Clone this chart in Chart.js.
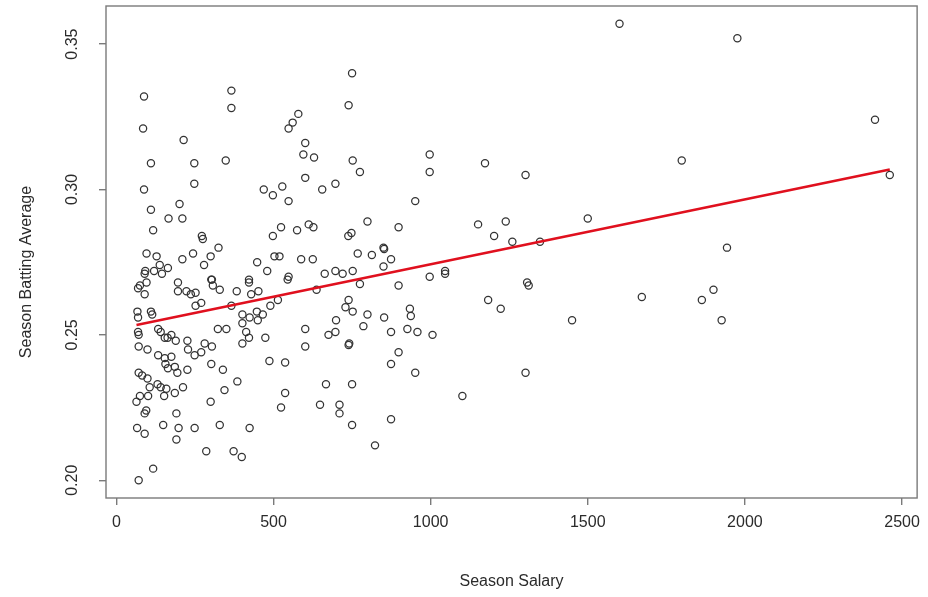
<!DOCTYPE html>
<html>
<head>
<meta charset="utf-8">
<script src="https://cdn.jsdelivr.net/npm/chart.js@4"></script>
<style>
  html, body { margin: 0; padding: 0; background: #fff; }
  canvas { display: block; }
</style>
</head>
<body>
<canvas id="chart" width="928" height="597"></canvas>
<script>
// Season salary (thousands) and season batting average, one entry per player
const salary = [
  88, 85, 214, 110, 248, 88, 248, 110, 201, 166, 210, 117, 272, 275,
  325, 96, 128, 210, 244, 300, 279, 138, 90, 92, 120, 145, 164, 302,
  75, 96, 90, 69, 196, 196, 223, 252, 237, 304, 307, 329,
  270, 252, 67, 110, 69, 114, 366, 323, 350, 69, 71, 133, 141, 154, 175, 163,
  71, 99, 189, 226, 228, 249, 270, 281, 304, 133, 154, 175, 156, 164, 186, 194, 226, 302,
  71, 82, 99, 106, 131, 141, 159, 186, 212, 339, 75, 64, 101, 152, 344, 90, 95, 191, 300,
  66, 90, 149, 198, 191, 249, 286, 117, 71, 329,
  366, 366, 579, 561, 548, 601, 348, 595, 629, 601, 655, 697, 469, 498, 528, 548,
  498, 524, 575, 612, 627, 448, 480, 503, 519, 588, 625, 422, 548, 663, 697,
  422, 545, 383, 429, 452, 637, 514, 401, 424, 447, 466, 490, 450, 699, 401, 413, 422,
  401, 474, 601, 675, 697, 601, 487, 537, 385, 537, 667, 524, 648, 424, 373, 399,
  750, 739, 752, 775, 997, 997, 951, 799, 898, 738, 748,
  768, 813, 850, 852, 874, 850, 752, 720, 997, 1046, 1046,
  775, 898, 739, 729, 752, 799, 852, 934, 937, 786, 874, 926, 958,
  1006, 739, 741, 898, 874, 951, 750, 710, 710, 750, 874, 823,
  1173, 1302, 1151, 1239, 1202, 1260, 1348, 1500, 1307, 1312, 1183, 1223, 1450, 1302, 1101,
  1601, 1976, 2414, 1799, 2461, 1943, 1672, 1900, 1863, 1926
];
const battingAvg = [
  0.332, 0.321, 0.317, 0.309, 0.309, 0.300, 0.302, 0.293, 0.295, 0.290, 0.290, 0.286, 0.284, 0.283,
  0.280, 0.278, 0.277, 0.276, 0.278, 0.277, 0.274, 0.274, 0.271, 0.272, 0.272, 0.271, 0.273, 0.269,
  0.267, 0.268, 0.264, 0.266, 0.268, 0.265, 0.265, 0.2645, 0.264, 0.269, 0.267, 0.2655,
  0.261, 0.260, 0.258, 0.258, 0.256, 0.257, 0.260, 0.252, 0.252, 0.251, 0.250, 0.252, 0.251, 0.249, 0.250, 0.249,
  0.246, 0.245, 0.248, 0.248, 0.245, 0.243, 0.244, 0.247, 0.246, 0.243, 0.242, 0.2425, 0.240, 0.2385, 0.239, 0.237, 0.238, 0.240,
  0.237, 0.236, 0.235, 0.232, 0.233, 0.232, 0.2315, 0.230, 0.232, 0.238, 0.229, 0.227, 0.229, 0.229, 0.231, 0.223, 0.224, 0.223, 0.227,
  0.218, 0.216, 0.219, 0.218, 0.214, 0.218, 0.210, 0.204, 0.200, 0.219,
  0.334, 0.328, 0.326, 0.323, 0.321, 0.316, 0.310, 0.312, 0.311, 0.304, 0.300, 0.302, 0.300, 0.298, 0.301, 0.296,
  0.284, 0.287, 0.286, 0.288, 0.287, 0.275, 0.272, 0.277, 0.277, 0.276, 0.276, 0.269, 0.270, 0.271, 0.272,
  0.268, 0.269, 0.265, 0.264, 0.265, 0.2655, 0.262, 0.257, 0.256, 0.258, 0.257, 0.260, 0.255, 0.255, 0.254, 0.251, 0.249,
  0.247, 0.249, 0.252, 0.250, 0.251, 0.246, 0.241, 0.2405, 0.234, 0.230, 0.233, 0.225, 0.226, 0.218, 0.210, 0.208,
  0.340, 0.329, 0.310, 0.306, 0.312, 0.306, 0.296, 0.289, 0.287, 0.284, 0.285,
  0.278, 0.2775, 0.280, 0.2795, 0.276, 0.2735, 0.272, 0.271, 0.270, 0.272, 0.271,
  0.2675, 0.267, 0.262, 0.2595, 0.258, 0.257, 0.256, 0.259, 0.2565, 0.253, 0.251, 0.252, 0.251,
  0.250, 0.2465, 0.247, 0.244, 0.240, 0.237, 0.233, 0.226, 0.223, 0.219, 0.221, 0.212,
  0.309, 0.305, 0.288, 0.289, 0.284, 0.282, 0.282, 0.290, 0.268, 0.267, 0.262, 0.259, 0.255, 0.237, 0.229,
  0.357, 0.352, 0.324, 0.310, 0.305, 0.280, 0.263, 0.2655, 0.262, 0.255
];

// Least-squares fit, evaluated at the smallest and largest salary
const fitSalary = [64, 2461];
const fitAvg = [0.2534, 0.3069];

const xTicks = [0, 500, 1000, 1500, 2000, 2500];
const yTicks = [0.20, 0.25, 0.30, 0.35];
const yTickLabels = ['0.20', '0.25', '0.30', '0.35'];
const xTitle = 'Season Salary';
const yTitle = 'Season Batting Average';

const FONT = '"Liberation Sans", Arial, Helvetica, sans-serif';
const INK = '#2b2b2b';
const FRAME = '#7a7a7a';

// Frame around the plot region, vertical y tick labels and the y title
const frameAndYLabels = {
  id: 'frameAndYLabels',
  afterDraw(chart) {
    const { ctx, chartArea: a, scales: { y } } = chart;
    ctx.save();
    ctx.strokeStyle = FRAME;
    ctx.lineWidth = 1.4;
    ctx.strokeRect(a.left, a.top, a.right - a.left, a.bottom - a.top);

    ctx.fillStyle = INK;
    ctx.font = '16px ' + FONT;
    ctx.textAlign = 'center';
    ctx.textBaseline = 'middle';
    yTicks.forEach((v, i) => {
      ctx.save();
      ctx.translate(73, y.getPixelForValue(v));
      ctx.rotate(-Math.PI / 2);
      ctx.fillText(yTickLabels[i], 0, 0);
      ctx.restore();
    });

    ctx.save();
    ctx.translate(27, 272);
    ctx.rotate(-Math.PI / 2);
    ctx.fillText(yTitle, 0, 0);
    ctx.restore();
    ctx.restore();
  }
};

const axisGrid = {
  drawOnChartArea: false,
  drawTicks: true,
  tickLength: 7,
  color: FRAME,
  lineWidth: 1.4
};

new Chart(document.getElementById('chart'), {
  type: 'scatter',
  data: {
    datasets: [
      {
        label: 'players',
        data: salary.map((s, i) => ({ x: s, y: battingAvg[i] })),
        pointStyle: 'circle',
        pointRadius: 3.6,
        pointHoverRadius: 3.6,
        pointBorderWidth: 1.25,
        pointBorderColor: '#333333',
        pointBackgroundColor: 'rgba(0,0,0,0)',
        showLine: false,
        order: 1
      },
      {
        label: 'fit',
        data: fitSalary.map((s, i) => ({ x: s, y: fitAvg[i] })),
        showLine: true,
        borderColor: '#e0101e',
        borderWidth: 2.6,
        pointRadius: 0,
        pointHoverRadius: 0,
        fill: false,
        tension: 0,
        order: 0
      }
    ]
  },
  options: {
    responsive: false,
    animation: false,
    devicePixelRatio: 1,
    events: [],
    layout: { padding: { top: 6, right: 9, left: 0, bottom: 0 } },
    plugins: { legend: { display: false }, tooltip: { enabled: false } },
    scales: {
      x: {
        type: 'linear',
        min: -33,
        max: 2548,
        afterBuildTicks: s => { s.ticks = xTicks.map(v => ({ value: v })); },
        afterFit: s => { s.height = 99; },
        grid: axisGrid,
        border: { display: false },
        ticks: {
          font: { size: 16, family: FONT },
          color: INK,
          padding: 8,
          maxRotation: 0,
          minRotation: 0,
          autoSkip: false,
          callback: v => String(v)
        },
        title: {
          display: true,
          text: xTitle,
          font: { size: 16, family: FONT },
          color: INK,
          padding: { top: 0, bottom: 6 }
        }
      },
      y: {
        type: 'linear',
        min: 0.1939,
        max: 0.3631,
        afterBuildTicks: s => { s.ticks = yTicks.map(v => ({ value: v })); },
        afterFit: s => { s.width = 106; },
        grid: axisGrid,
        border: { display: false },
        ticks: { display: false },
        title: { display: false }
      }
    }
  },
  plugins: [frameAndYLabels]
});
</script>
</body>
</html>
